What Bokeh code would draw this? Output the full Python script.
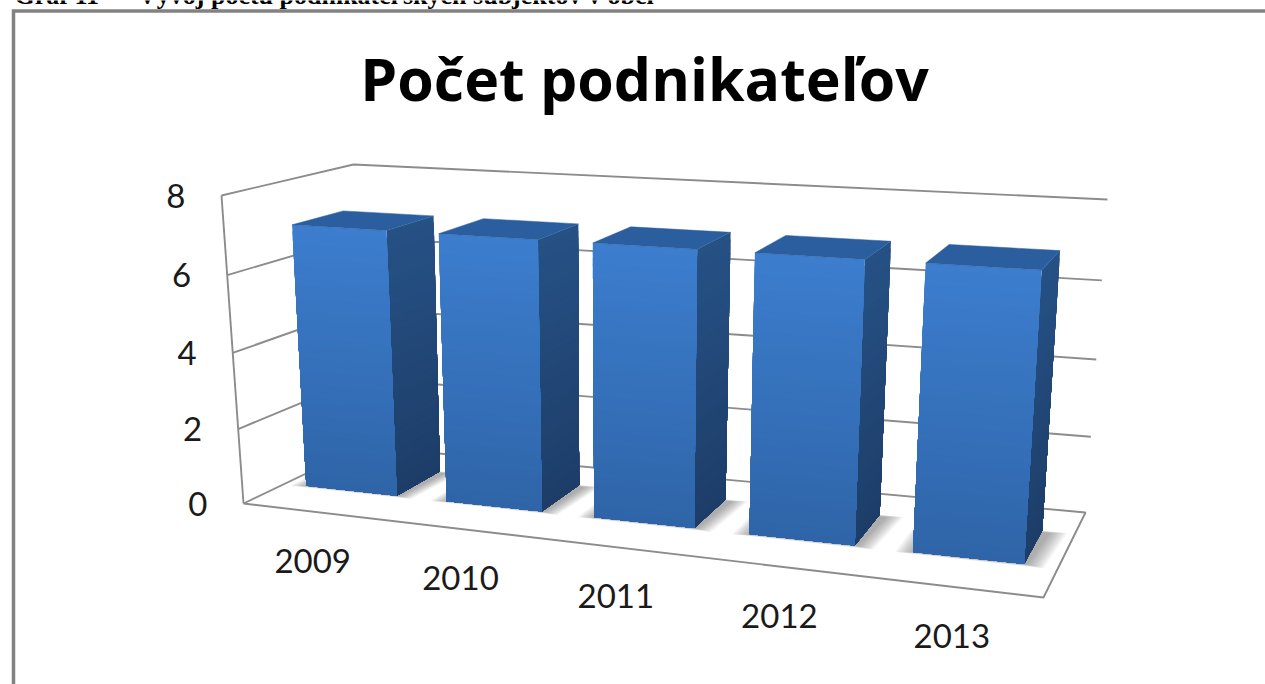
from bokeh.plotting import figure
from bokeh.models import Range1d
from bokeh.core.properties import value
from bokeh.embed import file_html
from bokeh.resources import INLINE

# ---- data
categories = ["2009", "2010", "2011", "2012", "2013"]
values = [7.0, 7.0, 7.0, 7.0, 7.0]
tick_values = [0, 2, 4, 6, 8]
title_text = "Počet podnikateľov"
header_text = "Graf 11 \u00a0– \u00a0Vývoj počtu podnikateľských subjektov v obci"

# ---- 3D scene: box corners on the page (u: along categories, d: depth, v: value)
VMAX = 8.0
FBL, FBR, BBL, BBR = (243, 503), (1043, 597), (362, 446), (1085, 512)
FTL, FTR, BTL, BTR = (221, 195), (1065, 243), (353, 164), (1107, 199)
PERSP = 1.137
VPERSP = 1.045
BAR_HALF = 0.065
BAR_SHIFT = -0.004
D_FRONT, D_BACK = 0.35, 0.75


def warp(t, k=PERSP):
    return t / (t + k * (1 - t))


def project(t, d, v):
    u = warp(t)
    w = warp(v / VMAX, VPERSP)
    out = []
    for k in (0, 1):
        fb = FBL[k] + (FBR[k] - FBL[k]) * u
        bb = BBL[k] + (BBR[k] - BBL[k]) * u
        ft = FTL[k] + (FTR[k] - FTL[k]) * u
        bt = BTL[k] + (BTR[k] - BTL[k]) * u
        bottom = fb + (bb - fb) * d
        top = ft + (bt - ft) * d
        out.append(bottom + (top - bottom) * w)
    return tuple(out)


def mix(c1, c2, f):
    return "#%02x%02x%02x" % tuple(round(a + (b - a) * f) for a, b in zip(c1, c2))


p = figure(width=1265, height=684, output_backend="svg", toolbar_location=None,
           x_range=Range1d(0, 1265), y_range=Range1d(684, 0), min_border=0,
           outline_line_color=None, background_fill_color="white")
p.axis.visible = False
p.grid.visible = False
p.styles = {"position": "absolute", "left": "0px", "top": "0px"}

GRID = "#8c8c8c"


def seg(pts, width=1.9):
    p.line([a[0] for a in pts], [a[1] for a in pts], line_color=GRID, line_width=width)


# page frame of the embedded picture
p.line([13, 13, 1265], [684, 10.5, 10.5], line_color="#828282", line_width=3.5, line_join="miter")

# walls and floor
for v in tick_values:
    if v == 0:
        continue
    seg([project(1, 1, v), project(0, 1, v), project(0, 0, v)])
seg([project(0, 0, 0), project(0, 0, VMAX)])
seg([project(0, 0, 0), project(1, 0, 0), project(1, 1, 0), project(0, 1, 0), project(0, 0, 0)])

# soft floor shadows
LAYERS = 14
for i in range(len(values)):
    t = (i + 0.5) / len(values) + BAR_SHIFT
    for n in range(LAYERS):
        g = 0.02 * (1 - n / (LAYERS - 1))
        corners = [project(t - BAR_HALF - g, D_FRONT - g * 1.2, 0),
                   project(t + BAR_HALF + 0.004 + g, D_FRONT - g * 1.2, 0),
                   project(t + BAR_HALF + 0.010 + g, D_BACK - 0.02 + g, 0),
                   project(t - BAR_HALF - g, D_BACK - 0.02 + g, 0)]
        p.patch([c[0] for c in corners], [c[1] for c in corners], fill_color="#404040",
                fill_alpha=0.04, line_color=None)

# bars, with vertical colour ramps painted top-down in overlapping slices
N = 40
FRONT_TOP, FRONT_BOT = (0x3c, 0x7d, 0xce), (0x2f, 0x65, 0xa8)
SIDE_TOP, SIDE_BOT = (0x26, 0x51, 0x85), (0x1d, 0x3d, 0x68)
TOP_COL = "#2b5e9e"
for i, val in enumerate(values):
    t = (i + 0.5) / len(values) + BAR_SHIFT
    l, r = t - BAR_HALF, t + BAR_HALF
    xs, ys, cols = [], [], []
    for n in range(N):
        v1 = val * (1 - n / N)
        f = n / (N - 1)
        quad = [project(r, D_FRONT, v1), project(r, D_BACK, v1), project(r, D_BACK, 0), project(r, D_FRONT, 0)]
        xs.append([c[0] for c in quad]); ys.append([c[1] for c in quad]); cols.append(mix(SIDE_TOP, SIDE_BOT, f))
    for n in range(N):
        v1 = val * (1 - n / N)
        f = n / (N - 1)
        quad = [project(l, D_FRONT, v1), project(r, D_FRONT, v1), project(r, D_FRONT, 0), project(l, D_FRONT, 0)]
        xs.append([c[0] for c in quad]); ys.append([c[1] for c in quad]); cols.append(mix(FRONT_TOP, FRONT_BOT, f))
    p.patches(xs, ys, fill_color=cols, line_color=None)
    top = [project(l, D_FRONT, val), project(r, D_FRONT, val), project(r, D_BACK, val), project(l, D_BACK, val)]
    p.patch([c[0] for c in top], [c[1] for c in top], fill_color=TOP_COL, line_color=TOP_COL, line_width=0.5)

# texts
FONT = value("Lato")
TXT = "#1a1a1a"
tp = [project(0, 0, v) for v in tick_values]
p.text([a[0] for a in tp], [a[1] for a in tp], text=[str(v) for v in tick_values], text_font=FONT,
       text_font_size="33px", text_color=TXT, text_align="right", text_baseline="middle", x_offset=-36, y_offset=0)
cp = [project((i + 0.5) / len(categories), 0, 0) for i in range(len(categories))]
p.text([a[0] for a in cp], [a[1] for a in cp], text=categories, text_font=FONT, text_font_size="33px",
       text_color=TXT, text_align="center", text_baseline="middle", x_offset=-2, y_offset=49)
p.text([644], [77], text=[title_text], text_font=value("Open Sans"), text_font_style="bold", text_font_size="59px",
       text_color="black", text_align="center", text_baseline="middle")
p.text([14], [-5], text=[header_text], text_font=value("Liberation Serif"), text_font_style="bold",
       text_font_size="26px", text_color="black", text_align="left", text_baseline="alphabetic")

open("out.html", "w").write(file_html(p, INLINE))
